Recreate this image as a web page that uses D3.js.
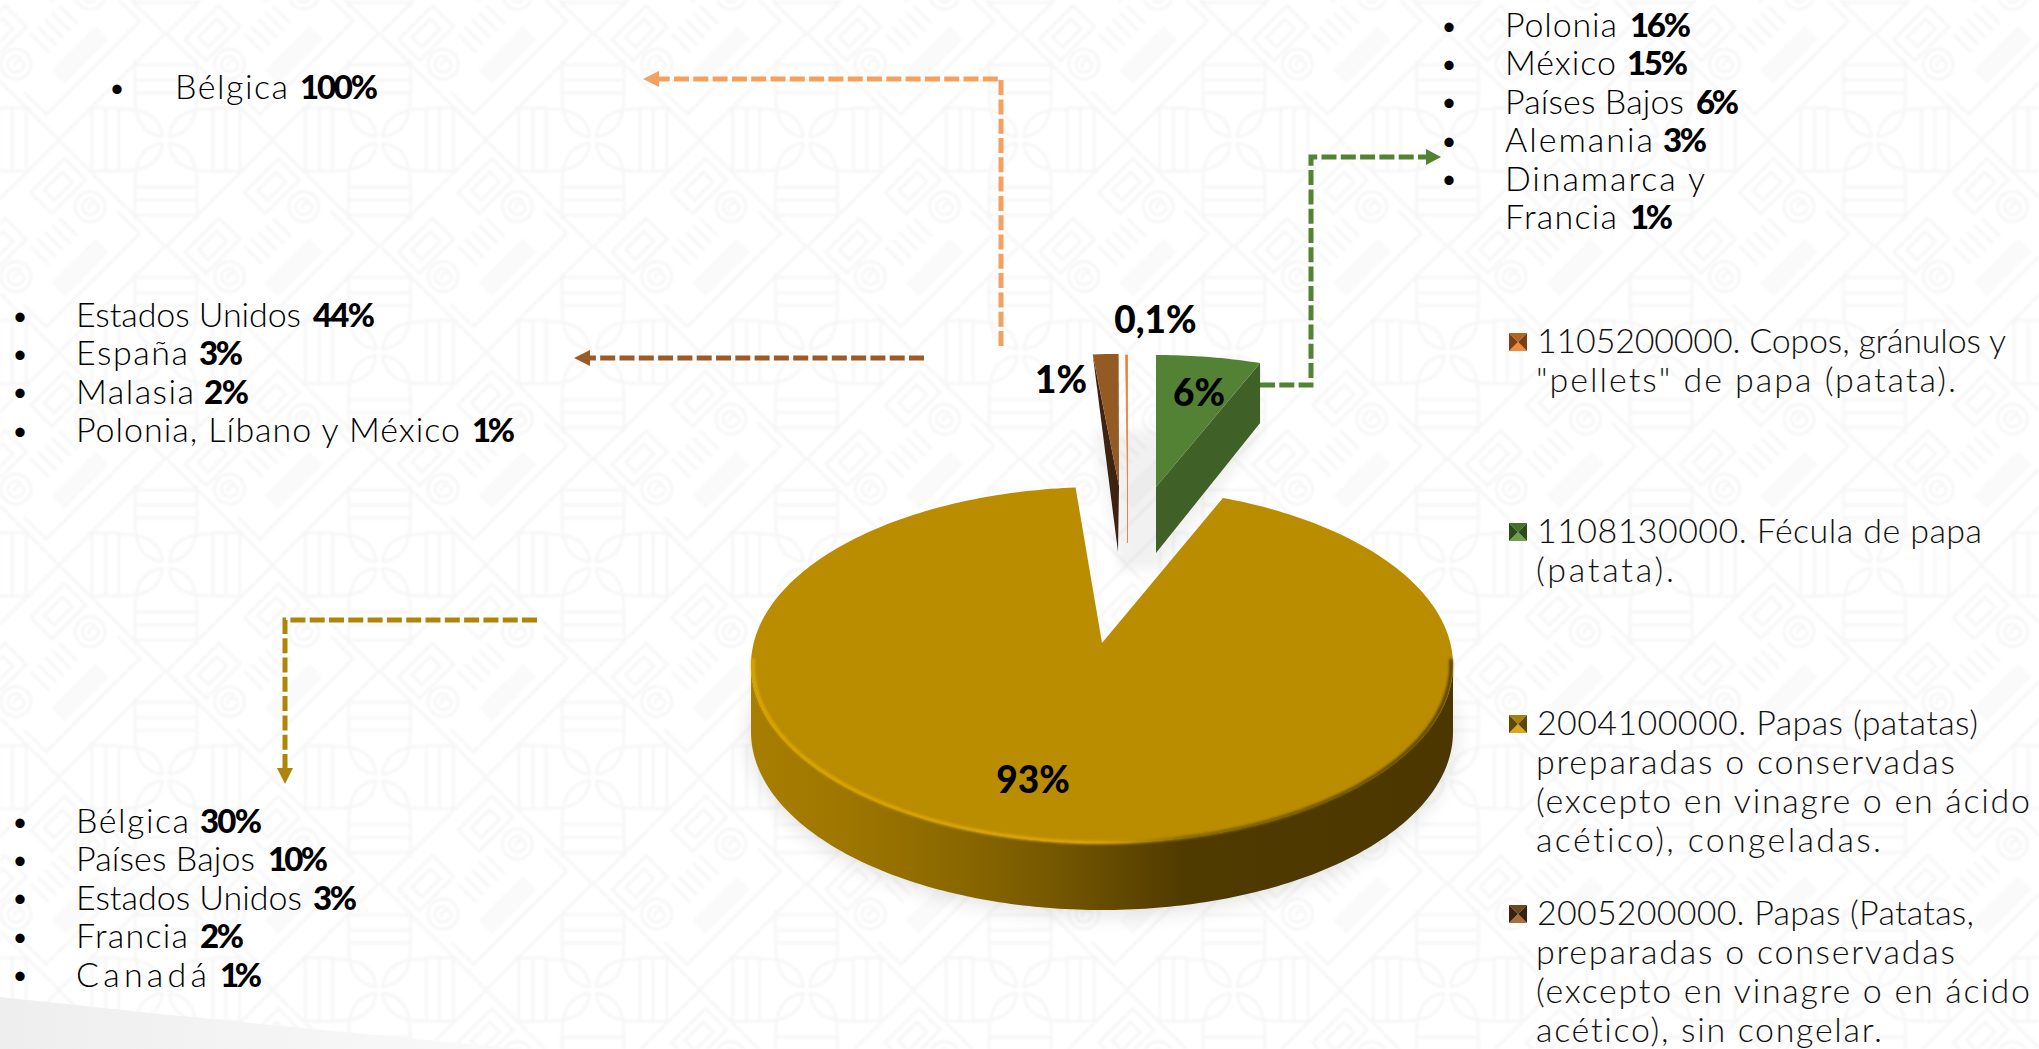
<!DOCTYPE html>
<html lang="es">
<head>
<meta charset="utf-8">
<title>Participación por subpartida</title>
<script src="https://cdn.jsdelivr.net/npm/d3@7/dist/d3.min.js"></script>
<style>
html,body{margin:0;padding:0;background:#fff;overflow:hidden}
svg{display:block}
text{font-family:Lato,"Noto Sans",sans-serif;font-variant-ligatures:none}
</style>
</head>
<body>
<svg id="chart" width="2039" height="1049"></svg>
<script>
// ---------- data ----------
const productCodes = ["1105200000", "1108130000", "2004100000", "2005200000"];
const productShares = [0.1, 5.6, 93.2, 1.1];
const shareLabels = ["0,1%", "6%", "93%", "1%"];
const legendLines = [
  ["1105200000. Copos, gránulos y", "\"pellets\" de papa (patata)."],
  ["1108130000. Fécula de papa", "(patata)."],
  ["2004100000. Papas (patatas)", "preparadas o conservadas", "(excepto en vinagre o en ácido", "acético), congeladas."],
  ["2005200000. Papas (Patatas,", "preparadas o conservadas", "(excepto en vinagre o en ácido", "acético), sin congelar."]
];
const destinosCopos = [["Bélgica", "100%"]];
const destinosFecula = [["Polonia", "16%"], ["México", "15%"], ["Países Bajos", "6%"], ["Alemania", "3%"], ["Dinamarca y", ""], ["Francia", "1%"]];
const destinosSinCongelar = [["Estados Unidos", "44%"], ["España", "3%"], ["Malasia", "2%"], ["Polonia, Líbano y México", "1%"]];
const destinosCongeladas = [["Bélgica", "30%"], ["Países Bajos", "10%"], ["Estados Unidos", "3%"], ["Francia", "2%"], ["Canadá", "1%"]];

// ---------- layout ----------
const svg = d3.select("#chart");
const defs = svg.append("defs");
const W = 2039, H = 1049;

// --- background tile ---
const TX = 213.6, TY = 212.5;
const tile = defs.append("pattern").attr("id", "bgTile")
  .attr("patternUnits", "userSpaceOnUse").attr("width", TX).attr("height", TY)
  .attr("x", 593 - TX * 3).attr("y", 140 - TY)
  .append("g").attr("fill", "none").attr("stroke", "#f6f6f6").attr("stroke-width", 2.8);

function flower(g) {
  [[1, 1], [1, -1], [-1, 1], [-1, -1]].forEach(([a, b]) => {
    g.append("path").attr("d",
      `M${a * 3},${b * 3} C${a * 6},${b * 24} ${a * 20},${b * 31} ${a * 46},${b * 31}`);
    g.append("path").attr("d",
      `M${a * 3},${b * 3} C${a * 24},${b * 6} ${a * 31},${b * 20} ${a * 31},${b * 46}`);
  });
  [-1, 1].forEach(s => {
    [47, 60, 74].forEach(x => g.append("line").attr("x1", s * x).attr("x2", s * x).attr("y1", -32).attr("y2", 31));
    g.append("line").attr("x1", s * 46).attr("x2", s * 78).attr("y1", -32).attr("y2", -32);
    g.append("line").attr("x1", s * 46).attr("x2", s * 78).attr("y1", 31).attr("y2", 31);
    [47, 60, 75].forEach(y => g.append("line").attr("y1", s * y).attr("y2", s * y).attr("x1", -30).attr("x2", 30));
    g.append("line").attr("x1", -31).attr("x2", -31).attr("y1", s * 46).attr("y2", s * 80);
    g.append("line").attr("x1", 31).attr("x2", 31).attr("y1", s * 46).attr("y2", s * 80);
  });
}
function spiral(g, x, y) {
  const s = g.append("g").attr("transform", `translate(${x},${y})`);
  s.append("circle").attr("r", 15);
  s.append("path").attr("d", "M8,0 A8,8 0 1 0 0,8 A5,5 0 1 0 -3,1");
}
function motif(g) {
  const m = g.append("g").attr("transform", "rotate(-45)");
  m.append("path").attr("d", "M-66,16 L-66,48 L66,48 L66,16");
  [[-42, -43], [42, -43]].forEach(([u, v]) => {
    m.append("rect").attr("x", u - 24).attr("y", v - 15).attr("width", 48).attr("height", 30);
    m.append("rect").attr("x", u - 13).attr("y", v - 7).attr("width", 26).attr("height", 14);
  });
  spiral(m, 50, -6); spiral(m, -52, -9);
  [-20, -10, 0, 10, 20].forEach(u => m.append("line").attr("x1", u).attr("x2", u).attr("y1", -20).attr("y2", 6));
  m.append("rect").attr("x", -30).attr("y", 22).attr("width", 60).attr("height", 16).attr("fill", "#fafafa").attr("stroke", "#f9f9f9");
}
function diagonals(g) {
  [[-107, 0, 0, 107], [0, 107, 107, 0], [107, 0, 0, -107], [0, -107, -107, 0]].forEach(d =>
    g.append("line").attr("x1", d[0]).attr("y1", d[1]).attr("x2", d[2]).attr("y2", d[3]));
}
[[0, 0], [TX, 0], [0, TY], [TX, TY]].forEach(([x, y]) => {
  const g = tile.append("g").attr("transform", `translate(${x},${y})`);
  flower(g); diagonals(g);
});
motif(tile.append("g").attr("transform", `translate(${TX / 2},${TY / 2})`));

const fBg = defs.append("filter").attr("id", "bgBlur").attr("x", 0).attr("y", 0).attr("width", "100%").attr("height", "100%");
fBg.append("feGaussianBlur").attr("stdDeviation", 0.8);

svg.append("rect").attr("width", W).attr("height", H).attr("fill", "#fff");
svg.append("rect").attr("width", W).attr("height", H).attr("fill", "url(#bgTile)").attr("filter", "url(#bgBlur)");

// bottom-left swoosh
const sw = defs.append("linearGradient").attr("id", "swoosh");
sw.append("stop").attr("offset", 0).attr("stop-color", "#eeeeee");
sw.append("stop").attr("offset", 1).attr("stop-color", "#fafafa");
svg.append("path").attr("d", "M0,997 L170,1015 L520,1049 L0,1049 Z").attr("fill", "url(#swoosh)");

// --- connector arrows ---
const arrowColors = { copos: "#F4A05F", sinCongelar: "#9C5B26", fecula: "#548235", congeladas: "#AE8508" };
const connectors = [
  { c: arrowColors.copos, pts: [[1001, 346], [1001, 79], [658, 79]], head: [[643, 79], [659, 71], [659, 87]] },
  { c: arrowColors.sinCongelar, pts: [[924, 358], [590, 358]], head: [[574, 358], [590, 350], [590, 366]] },
  { c: arrowColors.fecula, pts: [[1260, 385], [1311, 385], [1311, 157], [1427, 157]], head: [[1441, 157], [1426, 149], [1426, 165]] },
  { c: arrowColors.congeladas, pts: [[537, 620], [285, 620], [285, 769]], head: [[285, 784], [277, 768], [293, 768]] }
];
const lineGen = d3.line();
connectors.forEach(k => {
  svg.append("path").attr("d", lineGen(k.pts)).attr("fill", "none").attr("stroke", k.c)
    .attr("stroke-width", 5).attr("stroke-dasharray", "15 4.3");
  svg.append("path").attr("d", lineGen(k.head) + "Z").attr("fill", k.c);
});

// --- 3D pie ---
const deg = Math.PI / 180;
const pie = d3.pie().sort(null).startAngle(-0.36 * deg).endAngle((360 - 0.36) * deg);
const arcs = pie(productShares);

const sliceGeom = [
  { top: "#E8803A", side: "#C56A2C", cx: 1127.5, cy: 487, ax: 1127.5, ay: 487, rx: 300, ry: 132, d: 56, od: 0 },
  { top: "#548235", side: "#3F6026", cx: 1156, cy: 487, ax: 1156, ay: 487, rx: 302, ry: 132, d: 66, od: 60 },
  { top: "#BA8C00", side: "#5A4200", cx: 1102, cy: 665, ax: 1102, ay: 643, rx: 351, ry: 178, d: 67, od: 67 },
  { top: "#945A24", side: "#3E2410", cx: 1121, cy: 486, ax: 1119, ay: 486, rx: 375, ry: 132, d: 66, od: 0 }
];
const proj = (g, a, dy = 0) => [g.cx + g.rx * Math.sin(a), g.cy - g.ry * Math.cos(a) + dy];
const arcPts = (g, a0, a1, dy = 0) => {
  const n = Math.max(2, Math.ceil(Math.abs(a1 - a0) / (1 * deg)));
  return d3.range(n + 1).map(i => proj(g, a0 + (a1 - a0) * i / n, dy));
};
const slicePath = (g, a) => lineGen([[g.ax, g.ay], ...arcPts(g, a.startAngle, a.endAngle)]) + "Z";

const f1 = defs.append("filter").attr("id", "soft").attr("x", "-20%").attr("y", "-30%").attr("width", "140%").attr("height", "160%");
f1.append("feGaussianBlur").attr("stdDeviation", 11);
const f2 = defs.append("filter").attr("id", "rimBlur").attr("x", "-5%").attr("y", "-5%").attr("width", "110%").attr("height", "110%");
f2.append("feGaussianBlur").attr("stdDeviation", 1.3);
const f3 = defs.append("filter").attr("id", "softSmall").attr("x", "-40%").attr("y", "-40%").attr("width", "180%").attr("height", "180%");
f3.append("feGaussianBlur").attr("stdDeviation", 6);

const sideGrad = defs.append("linearGradient").attr("id", "sideGrad").attr("gradientUnits", "userSpaceOnUse")
  .attr("x1", 750).attr("x2", 1453).attr("y1", 0).attr("y2", 0);
[[0, "#A87E00"], [0.12, "#A07800"], [0.3, "#8A6800"], [0.45, "#725500"], [0.62, "#4F3A00"], [1, "#4C3700"]]
  .forEach(([o, c]) => sideGrad.append("stop").attr("offset", o).attr("stop-color", c));
const rimGrad = defs.append("linearGradient").attr("id", "rimGrad").attr("gradientUnits", "userSpaceOnUse")
  .attr("x1", 750).attr("x2", 1453).attr("y1", 0).attr("y2", 0);
[[0, "#DCA600"], [0.5, "#D8A40C"], [0.62, "#8C6A00"], [1, "#5A4300"]]
  .forEach(([o, c]) => rimGrad.append("stop").attr("offset", o).attr("stop-color", c));

const yellow = sliceGeom[2];
svg.append("path").attr("filter", "url(#soft)").attr("fill", "#000").attr("opacity", 0.13)
  .attr("d", lineGen(arcPts(yellow, 60 * deg, 300 * deg, 70)) + "Z");
svg.append("path").attr("filter", "url(#softSmall)").attr("fill", "#000").attr("opacity", 0.05)
  .attr("d", lineGen([[1092, 430], [1265, 430], [1160, 570], [1120, 570]]) + "Z");

const pieG = svg.append("g");
[2, 3, 0, 1].forEach(i => {
  const g = sliceGeom[i], a = arcs[i];
  if (i === 2) {
    const front = arcPts(g, 90 * deg, 270 * deg);
    const back = arcPts(g, 270 * deg, 90 * deg, g.d);
    pieG.append("path").attr("d", lineGen([...front, ...back]) + "Z").attr("fill", "url(#sideGrad)");
    pieG.append("path").attr("d", slicePath(g, a)).attr("fill", g.top);
    const inner = { ...g, rx: g.rx - 2, ry: g.ry - 0.5 };
    pieG.append("path").attr("d", lineGen(arcPts(inner, 272 * deg, 88 * deg))).attr("fill", "none")
      .attr("stroke", "url(#rimGrad)").attr("stroke-width", 3.6).attr("filter", "url(#rimBlur)");
  } else if (i === 1) {
    const outer = proj(g, a.endAngle);
    pieG.append("path").attr("fill", g.side)
      .attr("d", lineGen([[g.ax, g.ay], outer, [outer[0], outer[1] + g.od], [g.ax, g.ay + g.d]]) + "Z");
    pieG.append("path").attr("d", slicePath(g, a)).attr("fill", g.top);
  } else if (i === 3) {
    const outer = proj(g, a.startAngle);
    pieG.append("path").attr("fill", g.side)
      .attr("d", lineGen([outer, [g.ax, g.ay], [g.ax - 1, g.ay + g.d]]) + "Z");
    pieG.append("path").attr("d", slicePath(g, a)).attr("fill", g.top);
  } else {
    pieG.append("path").attr("fill", g.top).attr("stroke", g.top).attr("stroke-width", 0.8)
      .attr("d", lineGen([[g.ax, g.ay + g.d], [g.ax, g.ay], ...arcPts(g, a.startAngle, a.endAngle)]) + "Z");
  }
});

// --- value labels ---
const labelPos = [[1155.5, 333], [1199, 406], [1033, 793], [1061, 393]];
svg.append("g").selectAll("text").data(shareLabels).join("text")
  .attr("x", (d, i) => labelPos[i][0]).attr("y", (d, i) => labelPos[i][1])
  .attr("text-anchor", "middle").attr("font-size", 37).attr("font-weight", 900).attr("fill", "#000")
  .text(d => d);

// --- bullet lists ---
const FS = 34, LS = 38.4;
function bulletList(rows, metrics, bx, tx, y0, noBullet = []) {
  const g = svg.append("g");
  rows.forEach((r, i) => {
    const y = y0 + i * LS, m = metrics[i];
    if (!noBullet.includes(i)) {
      g.append("text").attr("x", bx).attr("y", y - 2.5).attr("text-anchor", "middle")
        .attr("font-size", 25).attr("fill", "#000").text("•");
    }
    g.append("text").attr("x", tx).attr("y", y).attr("font-size", FS).attr("font-weight", 300).attr("fill", "#000")
      .attr("textLength", m[0]).attr("lengthAdjust", "spacing").text(r[0]);
    if (r[1]) {
      g.append("text").attr("x", m[1]).attr("y", y).attr("font-size", 33).attr("font-weight", 900)
        .attr("fill", "#000").attr("textLength", m[2]).attr("lengthAdjust", "spacing").text(r[1]);
    }
  });
}
bulletList(destinosCopos, [[113, 300, 78]], 117, 175, 99);
bulletList(destinosFecula, [[112, 1630, 61], [111, 1627, 61], [179, 1696, 43], [148, 1663, 44], [200, 0, 0], [112, 1630, 43]], 1449, 1505, 37, [5]);
bulletList(destinosSinCongelar, [[225, 313, 62], [112, 199, 44], [118, 204, 45], [384, 472, 43]], 20, 76, 327);
bulletList(destinosCongeladas, [[113, 200, 62], [179, 268, 60], [226, 313, 44], [112, 200, 44], [131, 220, 42]], 20, 76, 833);

// --- legend ---
const legendColors = [
  ["#F08A3C", "#7A3F14", "#B8631F"],
  ["#6FA04C", "#2C4A1C", "#46702C"],
  ["#D8A820", "#5E4700", "#A4800C"],
  ["#A8703A", "#3A2210", "#70461C"]
];
const legendY = [353, 543, 735, 925];
const legendLS = 39;
const legendWidths = [[469, 420], [445, 138], [441, 419, 494, 345], [437, 419, 494, 346]];
const legend = svg.append("g");
productCodes.forEach((code, i) => {
  const y = legendY[i], x0 = 1509, s = 18, top = y - 20;
  const c = legendColors[i], cxm = x0 + s / 2, cym = top + s / 2;
  const tri = (pts, f) => legend.append("path").attr("d", lineGen(pts) + "Z").attr("fill", f);
  tri([[x0, top], [x0 + s, top], [cxm, cym]], c[2]);
  tri([[x0, top + s], [x0 + s, top + s], [cxm, cym]], c[0]);
  tri([[x0, top], [x0, top + s], [cxm, cym]], c[1]);
  tri([[x0 + s, top], [x0 + s, top + s], [cxm, cym]], c[1]);
  legendLines[i].forEach((line, j) => {
    legend.append("text").attr("x", j === 0 ? 1537 : 1536).attr("y", y + j * legendLS)
      .attr("font-size", FS).attr("font-weight", 300).attr("fill", "#111")
      .attr("textLength", legendWidths[i][j]).attr("lengthAdjust", "spacing").text(line);
  });
});
</script>
</body>
</html>
